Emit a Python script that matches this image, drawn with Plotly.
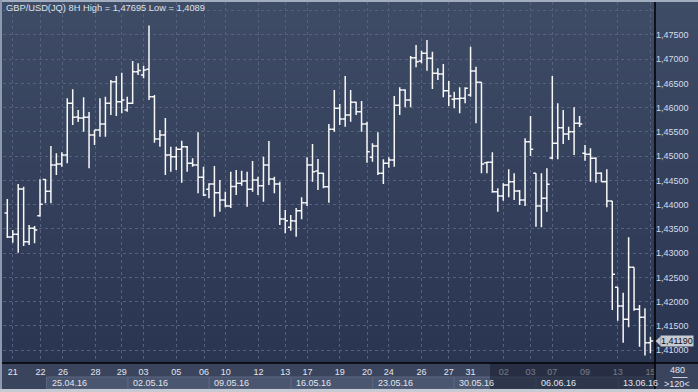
import plotly.graph_objects as go

# ---------------- data ----------------
bar_index = list(range(119))

opens = [1.43830, 1.43335, 1.43391, 1.44325, 1.43238, 1.43515, 1.43774, 1.44521, 1.44277, 1.44820,
         1.44840, 1.45026, 1.46092, 1.45809, 1.45789, 1.45803, 1.45438, 1.45541, 1.45665, 1.46092,
         1.46537, 1.46125, 1.45954, 1.46092, 1.46743, 1.46675, 1.46793, 1.46228, 1.45356, 1.45438,
         1.45026, 1.44991, 1.45143, 1.45197, 1.44855, 1.44820, 1.44566, 1.44319, 1.44428, 1.44249,
         1.44098, 1.43974, 1.44376, 1.44442, 1.44490, 1.44319, 1.44510, 1.44393, 1.44820, 1.44531,
         1.44428, 1.43706, 1.43535, 1.43665, 1.43877, 1.44042, 1.44820, 1.44696, 1.44648, 1.44372,
         1.45556, 1.45989, 1.45768, 1.45851, 1.46112, 1.45919, 1.45665, 1.44978, 1.45211, 1.44648,
         1.44855, 1.44923, 1.46051, 1.46366, 1.46160, 1.47032, 1.46964, 1.47123, 1.47020, 1.46710,
         1.46696, 1.46352, 1.46174, 1.46187, 1.46195, 1.46263, 1.46758, 1.46525, 1.44867, 1.44875,
         1.44269, 1.44180, 1.44407, 1.44475, 1.44283, 1.44098, 1.45300, 1.44648, 1.43974, 1.44133,
         1.44964, 1.45267, 1.45589, 1.45459, 1.45506, 1.45679, 1.45061, 1.45040, 1.44958, 1.44648,
         1.44475, 1.44077, 1.42298, 1.41912, 1.41638, 1.42710, 1.41845, 1.41679, 1.41156]

highs = [1.44119, 1.43479, 1.44428, 1.44372, 1.43583, 1.43562, 1.44525, 1.44531, 1.45211, 1.45061,
         1.45082, 1.46195, 1.46380, 1.45954, 1.46216, 1.45912, 1.45541, 1.46195, 1.46228, 1.46572,
         1.46655, 1.46723, 1.46228, 1.46964, 1.46917, 1.46867, 1.47695, 1.46263, 1.45541, 1.45789,
         1.45197, 1.45197, 1.45321, 1.45211, 1.44958, 1.45494, 1.44785, 1.44442, 1.44799, 1.44510,
         1.44269, 1.44681, 1.44717, 1.44702, 1.44681, 1.44902, 1.44578, 1.44991, 1.45314, 1.44578,
         1.44475, 1.43892, 1.43789, 1.43933, 1.44154, 1.44978, 1.45253, 1.44943, 1.44660, 1.45665,
         1.46366, 1.46077, 1.46655, 1.46366, 1.46125, 1.46139, 1.45712, 1.45267, 1.45494, 1.44937,
         1.44978, 1.46242, 1.46422, 1.46380, 1.47067, 1.47294, 1.47176, 1.47397, 1.47156, 1.46813,
         1.46902, 1.46552, 1.46331, 1.46422, 1.46422, 1.47259, 1.46846, 1.46525, 1.44888, 1.45082,
         1.44339, 1.44442, 1.44731, 1.44648, 1.44304, 1.45370, 1.45830, 1.44648, 1.44648, 1.44752,
         1.46655, 1.46092, 1.45954, 1.45609, 1.46009, 1.45830, 1.45232, 1.45164, 1.44978, 1.44669,
         1.44731, 1.44077, 1.42298, 1.42187, 1.43329, 1.42710, 1.41933, 1.41865, 1.41279]

lows = [1.43314, 1.43218, 1.43011, 1.43150, 1.43170, 1.43205, 1.43754, 1.44030, 1.44030, 1.44613,
        1.44785, 1.44855, 1.45644, 1.45706, 1.45506, 1.44752, 1.45232, 1.45403, 1.45403, 1.45851,
        1.45830, 1.45886, 1.45919, 1.46077, 1.46675, 1.46607, 1.46160, 1.45279, 1.45197, 1.44613,
        1.44681, 1.44717, 1.44455, 1.44681, 1.44785, 1.44236, 1.44180, 1.44133, 1.43754, 1.43857,
        1.43948, 1.43933, 1.44201, 1.44393, 1.43960, 1.44269, 1.44201, 1.44063, 1.44407, 1.44236,
        1.43583, 1.43411, 1.43465, 1.43341, 1.43700, 1.43974, 1.44475, 1.44304, 1.44339, 1.44042,
        1.45506, 1.45644, 1.45609, 1.45712, 1.45851, 1.45506, 1.44867, 1.44888, 1.44613, 1.44428,
        1.44764, 1.44785, 1.45851, 1.46009, 1.46009, 1.46834, 1.46917, 1.46764, 1.46387, 1.46572,
        1.46216, 1.46036, 1.45989, 1.45886, 1.46092, 1.46228, 1.45679, 1.44648, 1.44648, 1.44249,
        1.43857, 1.44084, 1.44154, 1.44098, 1.43995, 1.43974, 1.45005, 1.43548, 1.43535, 1.43857,
        1.44937, 1.44937, 1.45253, 1.45335, 1.45026, 1.45603, 1.44908, 1.44475, 1.44455, 1.44475,
        1.43948, 1.41830, 1.41609, 1.41156, 1.41473, 1.41815, 1.41073, 1.40890, 1.40937]

closes = [1.43335, 1.43391, 1.44325, 1.43238, 1.43515, 1.43480, 1.44009, 1.44277, 1.44820, 1.44840,
          1.45026, 1.46092, 1.45803, 1.45789, 1.45803, 1.45438, 1.45541, 1.45665, 1.46092, 1.46537,
          1.46125, 1.46160, 1.46092, 1.46743, 1.46768, 1.46778, 1.46228, 1.45356, 1.45438, 1.45026,
          1.44991, 1.45143, 1.45197, 1.44855, 1.44820, 1.44566, 1.44201, 1.44428, 1.44249, 1.44098,
          1.43974, 1.44376, 1.44442, 1.44490, 1.44319, 1.44510, 1.44393, 1.44820, 1.44531, 1.44428,
          1.43706, 1.43671, 1.43671, 1.43877, 1.44042, 1.44820, 1.44681, 1.44648, 1.44372, 1.45556,
          1.45989, 1.45768, 1.45851, 1.46112, 1.45919, 1.45665, 1.45094, 1.45211, 1.44648, 1.44855,
          1.44923, 1.46051, 1.46366, 1.46160, 1.47032, 1.46950, 1.47123, 1.47020, 1.46710, 1.46696,
          1.46352, 1.46242, 1.46187, 1.46195, 1.46401, 1.46758, 1.46525, 1.44840, 1.44875, 1.44269,
          1.44180, 1.44407, 1.44475, 1.44283, 1.44098, 1.45300, 1.45143, 1.43974, 1.44133, 1.44422,
          1.45267, 1.45589, 1.45459, 1.45506, 1.45679, 1.45665, 1.45040, 1.44958, 1.44648, 1.44475,
          1.44077, 1.42566, 1.41912, 1.41638, 1.42710, 1.41845, 1.41679, 1.41156, 1.41190]

day_ticks = [1, 6.1, 10.2, 16.2, 21, 25, 31, 36.1, 40.1, 46.1, 51, 55.1, 61, 66, 70, 76, 81, 85,
             91.1, 96, 100, 106, 112, 118]
day_labels = ["21", "22", "26", "28", "29", "03", "05", "06", "10", "12", "13", "17", "19", "20",
              "24", "26", "27", "31", "02", "03", "07", "09", "13", "15"]

week_starts = [7.2, 22.15, 37.05, 52.05, 67.05, 82.0, 97.0, 112.1]
week_labels = ["25.04.16", "02.05.16", "09.05.16", "16.05.16", "23.05.16", "30.05.16",
               "06.06.16", "13.06.16"]

price_ticks = [1.410, 1.415, 1.420, 1.425, 1.430, 1.435, 1.440, 1.445, 1.450, 1.455, 1.460,
               1.465, 1.470, 1.475, 1.480]
price_labels = ["1,41000", "1,41500", "1,42000", "1,42500", "1,43000", "1,43500", "1,44000",
                "1,44500", "1,45000", "1,45500", "1,46000", "1,46500", "1,47000", "1,47500", ""]

title_text = "GBP/USD(JQ) 8H High = 1,47695 Low = 1,4089"
last_price = 1.41190
last_price_label = "1,41190"
bars_info_top = "480"
bars_info_bottom = ">120&lt;"

# ---------------- layout geometry ----------------
W, H = 698, 392
PL, PR, PT, PB = 3, 655, 2, 363
XMIN, XMAX = -0.79, 118.84
YMIN, YMAX = 1.40737, 1.48180
FONT = "Liberation Sans, Arial, sans-serif"


def xp(px):
    return (px - PL) / (PR - PL)


def yp(py):
    return (PB - py) / (PB - PT)


def ix(i):
    return (i - XMIN) / (XMAX - XMIN)


shapes = []
# gradient background (plot + right price panel)
N = 40
top_c = (63, 76, 102)
bot_c = (42, 53, 81)
for k in range(N):
    t = (k + 0.5) / N
    c = tuple(round(top_c[j] + (bot_c[j] - top_c[j]) * t) for j in range(3))
    y0 = PB * k / N
    y1 = min(PB, PB * (k + 1) / N + 0.8)
    shapes.append(dict(type="rect", xref="paper", yref="paper", x0=xp(0), x1=xp(W),
                       y0=yp(y1), y1=yp(y0), fillcolor="rgb(%d,%d,%d)" % c,
                       line=dict(width=0), layer="below"))
# time axis area
shapes.append(dict(type="rect", xref="paper", yref="paper", x0=xp(0), x1=xp(W),
                   y0=yp(389), y1=yp(363), fillcolor="#3a445d", line=dict(width=0), layer="below"))
# week boxes
for j, ws in enumerate(week_starts):
    x0 = ix(ws)
    x1 = ix(week_starts[j + 1]) if j + 1 < len(week_starts) else xp(PR)
    shapes.append(dict(type="rect", xref="paper", yref="paper", x0=x0, x1=x1,
                       y0=yp(389), y1=yp(377), fillcolor="#4a556f",
                       line=dict(color="#5c6782", width=1), layer="below"))
# dimmed (future) part of the time axis
shapes.append(dict(type="rect", xref="paper", yref="paper", x0=xp(490), x1=xp(PR),
                   y0=yp(389), y1=yp(363.5), fillcolor="rgba(24,30,46,0.55)",
                   line=dict(width=0), layer="above"))
# frame lines
shapes.append(dict(type="line", xref="paper", yref="paper", x0=xp(PR), x1=xp(PR),
                   y0=yp(389), y1=yp(0), line=dict(color="#000000", width=1.5), layer="above"))
shapes.append(dict(type="line", xref="paper", yref="paper", x0=xp(0), x1=xp(W),
                   y0=yp(PB), y1=yp(PB), line=dict(color="#000000", width=1.5), layer="above"))
shapes.append(dict(type="rect", xref="paper", yref="paper", x0=xp(0), x1=xp(W),
                   y0=yp(2), y1=yp(0), fillcolor="#a3adc0", line=dict(width=0), layer="above"))
shapes.append(dict(type="rect", xref="paper", yref="paper", x0=xp(0), x1=xp(2),
                   y0=yp(389), y1=yp(0), fillcolor="#8f99ae", line=dict(width=0), layer="above"))
shapes.append(dict(type="rect", xref="paper", yref="paper", x0=xp(0), x1=xp(W),
                   y0=yp(H), y1=yp(389), fillcolor="#c6cad3", line=dict(width=0), layer="above"))
# last price tag arrow
d = 4.6 * 0.005 / 24.25
shapes.append(dict(type="path", xref="paper", yref="y",
                   path="M %f,%f L %f,%f L %f,%f Z" % (xp(655.5), last_price, xp(660.5),
                                                       last_price + d, xp(660.5), last_price - d),
                   fillcolor="#c5cad3", line=dict(width=0), layer="above"))
# separator under bar count
shapes.append(dict(type="line", xref="paper", yref="paper", x0=xp(672.5), x1=xp(687.5),
                   y0=yp(377.5), y1=yp(377.5), line=dict(color="#c9cfdb", width=1), layer="above"))

annotations = []
annotations.append(dict(text=title_text, xref="paper", yref="paper", x=xp(4), y=yp(8.3),
                        xanchor="left", yanchor="middle", showarrow=False,
                        font=dict(family=FONT, size=9.3, color="#dde2ec")))
for ws, wl in zip(week_starts, week_labels):
    annotations.append(dict(text=wl, xref="paper", yref="paper", x=ix(ws), y=yp(383),
                            xanchor="left", yanchor="middle", xshift=3, showarrow=False,
                            font=dict(family=FONT, size=9, color="#e2e6ee")))
annotations.append(dict(text=last_price_label, xref="paper", yref="y", x=xp(660), y=last_price,
                        xanchor="left", yanchor="middle", showarrow=False, bgcolor="#c5cad3",
                        borderpad=0, font=dict(family=FONT, size=9, color="#111111")))
annotations.append(dict(text=bars_info_top, xref="paper", yref="paper", x=xp(677), y=yp(369.5),
                        xanchor="center", yanchor="middle", showarrow=False,
                        font=dict(family=FONT, size=9, color="#e2e6ee")))
annotations.append(dict(text=bars_info_bottom, xref="paper", yref="paper", x=xp(677), y=yp(383.7),
                        xanchor="center", yanchor="middle", showarrow=False,
                        font=dict(family=FONT, size=9, color="#e2e6ee")))

fig = go.Figure()
fig.add_trace(go.Ohlc(
    x=bar_index, open=opens, high=highs, low=lows, close=closes,
    increasing=dict(line=dict(color="#f8f8f8", width=1.5)),
    decreasing=dict(line=dict(color="#f8f8f8", width=1.5)),
    tickwidth=0.5, hoverinfo="skip", showlegend=False,
))

GRID = "#56627d"
fig.update_layout(
    width=W, height=H, autosize=False,
    margin=dict(l=PL, r=W - PR, t=PT, b=H - PB, pad=0),
    paper_bgcolor="#2f3a55", plot_bgcolor="rgba(0,0,0,0)",
    separators=", ",
    showlegend=False,
    font=dict(family=FONT, size=9, color="#e2e6ee"),
    xaxis=dict(range=[XMIN, XMAX], tickmode="array", tickvals=day_ticks, ticktext=day_labels,
               showgrid=True, gridcolor=GRID, griddash="3px,3px", gridwidth=1,
               zeroline=False, showline=False, ticks="", ticklabelstandoff=2,
               tickfont=dict(family=FONT, size=9, color="#e2e6ee"),
               rangeslider=dict(visible=False), fixedrange=True),
    yaxis=dict(range=[YMIN, YMAX], side="right", tickmode="array", tickvals=price_ticks,
               ticktext=price_labels, showgrid=True, gridcolor=GRID, griddash="3px,3px",
               gridwidth=1, zeroline=False, showline=False, ticks="",
               tickfont=dict(family=FONT, size=9, color="#d6dcea"), fixedrange=True),
    shapes=shapes,
    annotations=annotations,
)

fig.write_html("out.html")
